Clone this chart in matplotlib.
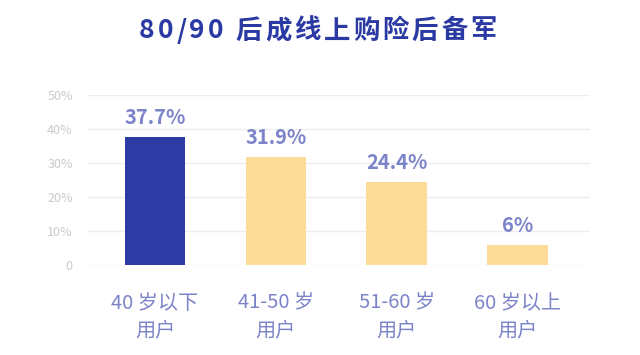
import matplotlib
matplotlib.use("Agg")
import matplotlib.pyplot as plt

plt.rcParams["font.family"] = ["Noto Sans CJK SC", "DejaVu Sans"]

TITLE = "80/90 后成线上购险后备军"
CATEGORIES = ["40 岁以下\n用户", "41-50 岁\n用户", "51-60 岁\n用户", "60 岁以上\n用户"]
VALUES = [37.7, 31.9, 24.4, 6]
VALUE_LABELS = ["37.7%", "31.9%", "24.4%", "6%"]
Y_TICKS = [0, 10, 20, 30, 40, 50]
Y_TICK_LABELS = ["0", "10%", "20%", "30%", "40%", "50%"]

DARK = "#2E3CA6"
LIGHT = "#FDDB98"
LABEL = "#7C84C9"
GRID = "#EEEEF2"
TICK = "#CACACA"
TITLE_COLOR = "#2B3AA3"

fig = plt.figure(figsize=(6.4, 3.55), dpi=100)
ax = fig.add_axes([88 / 640, 1 - 265 / 355, 502 / 640, 170 / 355])

colors = [DARK] + [LIGHT] * (len(VALUES) - 1)
xs = range(len(VALUES))
ax.bar(xs, VALUES, width=0.5, color=colors, zorder=2)

for x, v, lab in zip(xs, VALUES, VALUE_LABELS):
    ax.text(x, v + 2.6, lab, ha="center", va="bottom", fontsize=14.5,
            fontweight="bold", color=LABEL)

ax.set_xlim(-0.555, 3.6)
ax.set_ylim(0, 50)
ax.set_yticks(Y_TICKS)
ax.set_yticklabels(Y_TICK_LABELS, fontsize=9, color=TICK)
ax.grid(True, axis="y", color=GRID, linewidth=1, zorder=0)
ax.set_xticks(list(xs))
ax.set_xticklabels(CATEGORIES, fontsize=14.5, color=LABEL, linespacing=1.4)
ax.tick_params(axis="x", length=0, pad=20)
ax.tick_params(axis="y", length=0, pad=11)
for s in ax.spines.values():
    s.set_visible(False)

# title with letter spacing: lay out glyph by glyph
renderer = fig.canvas.get_renderer()
tracking = 3.0  # px between glyphs
pieces = []
for ch in TITLE:
    t = fig.text(0, 1 - 31 / 355, ch, ha="left", va="center", fontsize=19,
                 fontweight="bold", color=TITLE_COLOR)
    w = t.get_window_extent(renderer).width
    pieces.append((t, w))
total = sum(w for _, w in pieces) + tracking * (len(pieces) - 1)
x = 318 - total / 2
for t, w in pieces:
    t.set_x(x / 640)
    x += w + tracking

fig.savefig("out.png", dpi=100)
